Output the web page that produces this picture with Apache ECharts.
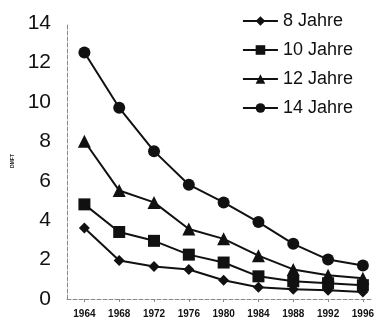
<!DOCTYPE html>
<html>
<head>
<meta charset="utf-8">
<script src="https://cdn.jsdelivr.net/npm/echarts@6/dist/echarts.min.js"></script>
<style>
  html, body { margin: 0; padding: 0; background: #fff; }
  #chart { width: 377px; height: 323px; }
</style>
</head>
<body>
<div id="chart"></div>
<script>
const years = [1964, 1968, 1972, 1976, 1980, 1984, 1988, 1992, 1996];
const yTicks = [0, 2, 4, 6, 8, 10, 12, 14];
const jahre8 = [3.6, 1.95, 1.65, 1.5, 0.95, 0.6, 0.5, 0.45, 0.35];
const jahre10 = [4.8, 3.4, 2.95, 2.25, 1.85, 1.15, 0.9, 0.8, 0.7];
const jahre12 = [8.0, 5.5, 4.9, 3.55, 3.05, 2.2, 1.5, 1.2, 1.05];
const jahre14 = [12.5, 9.7, 7.5, 5.8, 4.9, 3.9, 2.8, 2.0, 1.7];

const chart = echarts.init(document.getElementById("chart"));

function mkSeries(name, values, symbol, size) {
  return {
    name: name,
    type: "line",
    data: years.map((y, i) => [y, values[i]]),
    symbol: symbol,
    symbolSize: size,
    lineStyle: { color: "#111", width: 2 },
    itemStyle: { color: "#111" },
    emphasis: { disabled: true },
  };
}

chart.setOption({
  animation: false,
  grid: { left: 67, right: 3, top: 23, bottom: 24 },
  legend: {
    orient: "vertical",
    right: 19,
    top: 7,
    itemWidth: 35,
    itemHeight: 12,
    itemGap: 11,
    textStyle: { fontFamily: "Liberation Sans", fontSize: 18, color: "#111" },
    data: ["8 Jahre", "10 Jahre", "12 Jahre", "14 Jahre"],
  },
  xAxis: {
    type: "value",
    min: 1962,
    max: 1997,
    splitLine: { show: false },
    axisLine: { lineStyle: { color: "#888", type: "dashed", width: 1 } },
    axisTick: { customValues: years, length: 3, lineStyle: { color: "#888" } },
    axisLabel: {
      customValues: years,
      formatter: (v) => String(v),
      margin: 10,
      fontFamily: "Liberation Sans",
      fontWeight: "bold",
      fontSize: 10,
      color: "#111",
    },
  },
  yAxis: {
    type: "value",
    min: 0,
    max: 14,
    interval: 2,
    name: "DMFT",
    nameLocation: "middle",
    nameGap: 52,
    nameTextStyle: { fontFamily: "Liberation Sans", fontSize: 5, fontWeight: "bold", color: "#222" },
    splitLine: { show: false },
    axisLine: { show: true, lineStyle: { color: "#888", type: "dashed", width: 1 } },
    axisTick: { show: false },
    axisLabel: {
      customValues: yTicks,
      margin: 16,
      fontFamily: "Liberation Sans",
      fontSize: 21,
      color: "#111",
    },
  },
  series: [
    mkSeries("8 Jahre", jahre8, "diamond", 11),
    mkSeries("10 Jahre", jahre10, "rect", 12),
    mkSeries("12 Jahre", jahre12, "triangle", 13),
    mkSeries("14 Jahre", jahre14, "circle", 12),
  ],
});
</script>
</body>
</html>
